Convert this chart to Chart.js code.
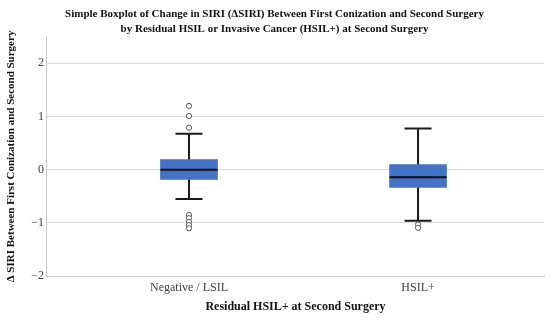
<!DOCTYPE html>
<html>
<head>
<meta charset="utf-8">
<script src="https://cdn.jsdelivr.net/npm/chart.js@4"></script>
<style>
    html, body { margin: 0; padding: 0; background: #fff; }
    #wrap { width: 550px; height: 322px; }
</style>
</head>
<body>
<div id="wrap"><canvas id="boxChart"></canvas></div>
<script>
const categories = ['Negative / LSIL', 'HSIL+'];
const whiskerLow = [-0.55, -0.96];
const q1 = [-0.18, -0.33];
const median = [0.0, -0.14];
const q3 = [0.19, 0.095];
const whiskerHigh = [0.675, 0.775];
const outliers = [
    [1.20, 1.01, 0.79, -0.85, -0.91, -0.98, -1.04, -1.10],
    [-1.03, -1.09]
];
const yTicks = [-2, -1, 0, 1, 2];

const serif = "'Liberation Serif', 'Times New Roman', serif";
const boxColor = '#4472C4';

// box bars: one floating bar per category
const boxData = categories.map((c, i) => ({ x: i, y: [q1[i], q3[i]] }));
const outlierData = [];
outliers.forEach((list, i) => list.forEach(v => outlierData.push({ x: i, y: v })));

// whiskers, caps and median drawn with the chart's scales
const boxParts = {
    id: 'boxParts',
    beforeDatasetsDraw(chart) {
        const ctx = chart.ctx;
        const xs = chart.scales.x;
        const ys = chart.scales.y;
        const capHalf = 13.5;
        ctx.save();
        ctx.strokeStyle = '#1a1a1a';
        ctx.lineWidth = 2;
        categories.forEach((c, i) => {
            const px = xs.getPixelForValue(i);
            ctx.beginPath();
            ctx.moveTo(px, ys.getPixelForValue(whiskerLow[i]));
            ctx.lineTo(px, ys.getPixelForValue(whiskerHigh[i]));
            [whiskerLow[i], whiskerHigh[i]].forEach(v => {
                const py = ys.getPixelForValue(v);
                ctx.moveTo(px - capHalf, py);
                ctx.lineTo(px + capHalf, py);
            });
            ctx.stroke();
        });
        ctx.restore();
    },
    afterDatasetsDraw(chart) {
        const ctx = chart.ctx;
        const xs = chart.scales.x;
        const ys = chart.scales.y;
        const meta = chart.getDatasetMeta(0);
        ctx.save();
        ctx.strokeStyle = '#111';
        ctx.lineWidth = 2;
        categories.forEach((c, i) => {
            const bar = meta.data[i];
            const half = bar.width / 2;
            const px = xs.getPixelForValue(i);
            const py = ys.getPixelForValue(median[i]);
            ctx.beginPath();
            ctx.moveTo(px - half, py);
            ctx.lineTo(px + half, py);
            ctx.stroke();
        });
        ctx.restore();
    }
};

new Chart(document.getElementById('boxChart'), {
    type: 'bar',
    data: {
        datasets: [
            {
                type: 'bar',
                data: boxData,
                backgroundColor: boxColor,
                borderWidth: 0,
                barThickness: 57,
                order: 2
            },
            {
                type: 'scatter',
                data: outlierData,
                pointStyle: 'circle',
                pointRadius: 2.6,
                pointBackgroundColor: '#ffffff',
                pointBorderColor: '#595959',
                pointBorderWidth: 1,
                order: 1
            }
        ]
    },
    plugins: [boxParts],
    options: {
        responsive: true,
        maintainAspectRatio: false,
        animation: false,
        layout: { padding: { top: 0, right: 6, bottom: 8, left: 5 } },
        scales: {
            x: {
                type: 'linear',
                offset: false,
                bounds: 'data',
                min: -0.62,
                max: 1.55,
                afterBuildTicks: scale => {
                    scale.ticks = categories.map((c, i) => ({ value: i }));
                },
                ticks: {
                    callback: (v) => categories[v],
                    color: '#404040',
                    font: { family: serif, size: 12 },
                    padding: 4
                },
                grid: { display: false, drawTicks: false },
                border: { display: true, color: '#c8c8c8', width: 1 },
                title: {
                    display: true,
                    text: 'Residual HSIL+ at Second Surgery',
                    color: '#111',
                    font: { family: serif, size: 12, weight: 'bold' },
                    padding: { top: 1, bottom: 0 }
                }
            },
            y: {
                min: -2,
                max: 2.5,
                afterBuildTicks: scale => {
                    scale.ticks = yTicks.map(v => ({ value: v }));
                },
                ticks: {
                    callback: (v) => (v < 0 ? '\u2212' + Math.abs(v) : String(v)),
                    color: '#404040',
                    font: { family: serif, size: 12 },
                    padding: 3
                },
                grid: { color: '#d9d9d9', lineWidth: 1, drawTicks: false },
                border: { display: true, color: '#c8c8c8', width: 1 },
                title: {
                    display: true,
                    text: '\u0394 SIRI Between First Conization and Second Surgery',
                    color: '#111',
                    font: { family: serif, size: 11, weight: 'bold' },
                    padding: { top: 0, bottom: 10 }
                }
            }
        },
        plugins: {
            legend: { display: false },
            tooltip: { enabled: false },
            title: {
                display: true,
                text: [
                    'Simple Boxplot of Change in SIRI (\u0394SIRI) Between First Conization and Second Surgery',
                    'by Residual HSIL or Invasive Cancer (HSIL+) at Second Surgery'
                ],
                color: '#111',
                font: { family: serif, size: 11, weight: 'bold', lineHeight: 1.35 },
                padding: { top: 7, bottom: 0 }
            }
        }
    }
});
</script>
</body>
</html>
